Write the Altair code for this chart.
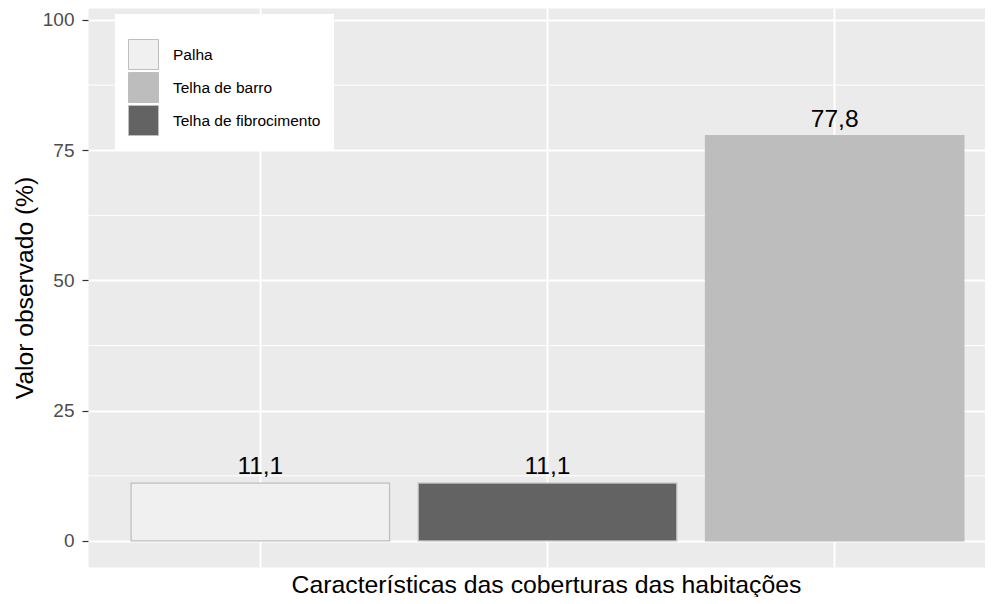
import altair as alt
import pandas as pd

# ---- data ----
categories = ["Palha", "Telha de fibrocimento", "Telha de barro"]
values = [11.1, 11.1, 77.8]
legend_order = ["Palha", "Telha de barro", "Telha de fibrocimento"]
legend_colors = ["#F0F0F0", "#BDBDBD", "#636363"]
y_major = [0, 25, 50, 75, 100]
y_minor = [12.5, 37.5, 62.5, 87.5]

df = pd.DataFrame({"cat": categories, "value": values})
minor_df = pd.DataFrame({"y": y_minor})

FONT = "Liberation Sans"
PLOT_W = 897
PLOT_H = 559

y_scale = alt.Scale(domain=[-5, 102.3], nice=False, zero=False)
x_scale = alt.Scale(range=[0, 919], paddingInner=0.1, paddingOuter=0.15)

minor = alt.Chart(minor_df).mark_rule(color="white", strokeWidth=1).encode(
    y=alt.Y("y:Q", scale=y_scale)
)

base = alt.Chart(df).encode(
    x=alt.X(
        "cat:N",
        sort=categories,
        scale=x_scale,
        axis=alt.Axis(
            title="Características das coberturas das habitações",
            labels=False,
            ticks=False,
            domain=False,
            grid=True,
            gridColor="white",
            gridWidth=2,
            titleFont=FONT,
            titleFontSize=24.8,
            titleFontWeight="normal",
            titleColor="#000000",
            titleX=458,
            titleY=25,
            titleAlign="center",
            titleBaseline="alphabetic",
        ),
    ),
    y=alt.Y(
        "value:Q",
        scale=y_scale,
        axis=alt.Axis(
            title="Valor observado (%)",
            values=y_major,
            domain=False,
            grid=True,
            gridColor="white",
            gridWidth=2,
            ticks=True,
            tickSize=6,
            tickColor="#333333",
            tickWidth=1.2,
            labelFont=FONT,
            labelFontSize=19,
            labelColor="#4D4D4D",
            labelPadding=8,
            titleFont=FONT,
            titleFontSize=24.6,
            titleFontWeight="normal",
            titleColor="#000000",
            titleX=-56,
            titleY=PLOT_H / 2,
            titleAngle=270,
            titleAlign="center",
            titleBaseline="alphabetic",
        ),
    ),
)

bars = base.mark_bar(stroke="#BEBEBE", strokeWidth=1.2).encode(
    color=alt.Color(
        "cat:N",
        scale=alt.Scale(domain=legend_order, range=legend_colors),
        legend=alt.Legend(
            title=" ",
            titleFontSize=8,
            titlePadding=4,
            orient="none",
            legendX=27,
            legendY=6,
            fillColor="white",
            padding=13,
            symbolType="square",
            symbolSize=900,
            symbolStrokeColor="#BEBEBE",
            symbolStrokeWidth=1,
            rowPadding=-3,
            labelFont=FONT,
            labelFontSize=15.5,
            labelColor="#000000",
            labelOffset=14,
        ),
    )
)

labels = base.transform_calculate(
    lab="replace(format(datum.value, '.1f'), '.', ',')"
).mark_text(
    font=FONT, fontSize=24.5, color="#000000", baseline="alphabetic", dy=-9
).encode(text="lab:N")

chart = (
    alt.layer(minor, bars, labels)
    .properties(
        width=PLOT_W,
        height=PLOT_H,
        autosize=alt.AutoSizeParams(type="none"),
        padding={"left": 80, "top": 0, "right": 0, "bottom": 30},
        background="white",
    )
    .configure_view(fill="#EBEBEB", stroke="transparent")
)

chart.save("out.html", embed_options={"renderer": "svg", "actions": False})
